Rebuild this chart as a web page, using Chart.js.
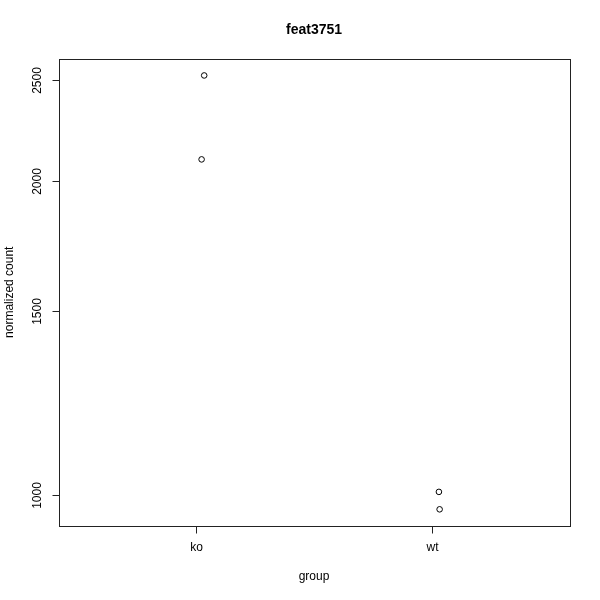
<!DOCTYPE html>
<html>
<head>
<meta charset="utf-8">
<script src="https://cdn.jsdelivr.net/npm/chart.js@4/dist/chart.umd.min.js"></script>
<style>
  html, body { margin: 0; padding: 0; background: #fff; }
  #wrap { width: 600px; height: 600px; }
</style>
</head>
<body>
<div id="wrap"><canvas id="c" width="600" height="600"></canvas></div>
<script>
// Normalized counts for feat3751 by group (points jittered horizontally)
const groups = ['ko', 'wt'];
const koX = [1.034, 1.023];
const koCounts = [2523, 2097];
const wtX = [2.028, 2.031];
const wtCounts = [1008, 970];
const yTicks = [1000, 1500, 2000, 2500];
const titleText = 'feat3751';
const xTitle = 'group';
const yTitle = 'normalized count';

const points = [];
koX.forEach((x, i) => points.push({ x: x, y: koCounts[i] }));
wtX.forEach((x, i) => points.push({ x: x, y: wtCounts[i] }));

const FONT = '"Liberation Sans", Arial, Helvetica, sans-serif';

// Base-graphics style frame: box, outward ticks, rotated y labels, titles
const framePlugin = {
  id: 'frame',
  afterDraw(chart) {
    const ctx = chart.ctx;
    const a = chart.chartArea;
    const xs = chart.scales.x, ys = chart.scales.y;
    ctx.save();
    ctx.strokeStyle = '#222';
    ctx.lineWidth = 1;
    const L = Math.round(a.left) + 0.5, R = Math.round(a.right) + 0.5;
    const T = Math.round(a.top) + 0.5, B = Math.round(a.bottom) + 0.5;
    ctx.strokeRect(L, T, R - L, B - T);

    ctx.fillStyle = '#000';
    ctx.font = '12px ' + FONT;
    // x ticks and labels
    groups.forEach((g, i) => {
      const px = Math.round(xs.getPixelForValue(i + 1)) + 0.5;
      ctx.beginPath();
      ctx.moveTo(px, B);
      ctx.lineTo(px, B + 7);
      ctx.stroke();
      ctx.textAlign = 'center';
      ctx.textBaseline = 'middle';
      ctx.fillText(g, px, 548);
    });
    // y ticks and rotated labels
    yTicks.forEach(v => {
      const py = Math.round(ys.getPixelForValue(v)) + 0.5;
      ctx.beginPath();
      ctx.moveTo(L, py);
      ctx.lineTo(L - 7, py);
      ctx.stroke();
      ctx.save();
      ctx.translate(38, py);
      ctx.rotate(-Math.PI / 2);
      ctx.textAlign = 'center';
      ctx.textBaseline = 'middle';
      ctx.fillText(String(v), 0, 0);
      ctx.restore();
    });
    // axis titles
    ctx.textAlign = 'center';
    ctx.textBaseline = 'middle';
    ctx.fillText(xTitle, (a.left + a.right) / 2, 577);
    ctx.save();
    ctx.translate(10, (a.top + a.bottom) / 2);
    ctx.rotate(-Math.PI / 2);
    ctx.fillText(yTitle, 0, 0);
    ctx.restore();
    // main title
    ctx.font = 'bold 14px ' + FONT;
    ctx.fillText(titleText, (a.left + a.right) / 2, 30);
    ctx.restore();
  }
};

new Chart(document.getElementById('c'), {
  type: 'scatter',
  data: {
    datasets: [{
      data: points,
      pointStyle: 'circle',
      pointRadius: 2.8,
      pointHoverRadius: 2.8,
      borderColor: '#000',
      backgroundColor: 'rgba(0,0,0,0)',
      borderWidth: 1
    }]
  },
  options: {
    responsive: false,
    animation: false,
    events: [],
    layout: { padding: { left: 58.5, right: 30.5, top: 58.5, bottom: 74 } },
    plugins: { legend: { display: false }, tooltip: { enabled: false }, title: { display: false } },
    scales: {
      x: { type: 'linear', display: false, min: 0.417, max: 2.581 },
      y: { type: 'logarithmic', display: false, min: 935, max: 2619 }
    }
  },
  plugins: [framePlugin]
});
</script>
</body>
</html>
